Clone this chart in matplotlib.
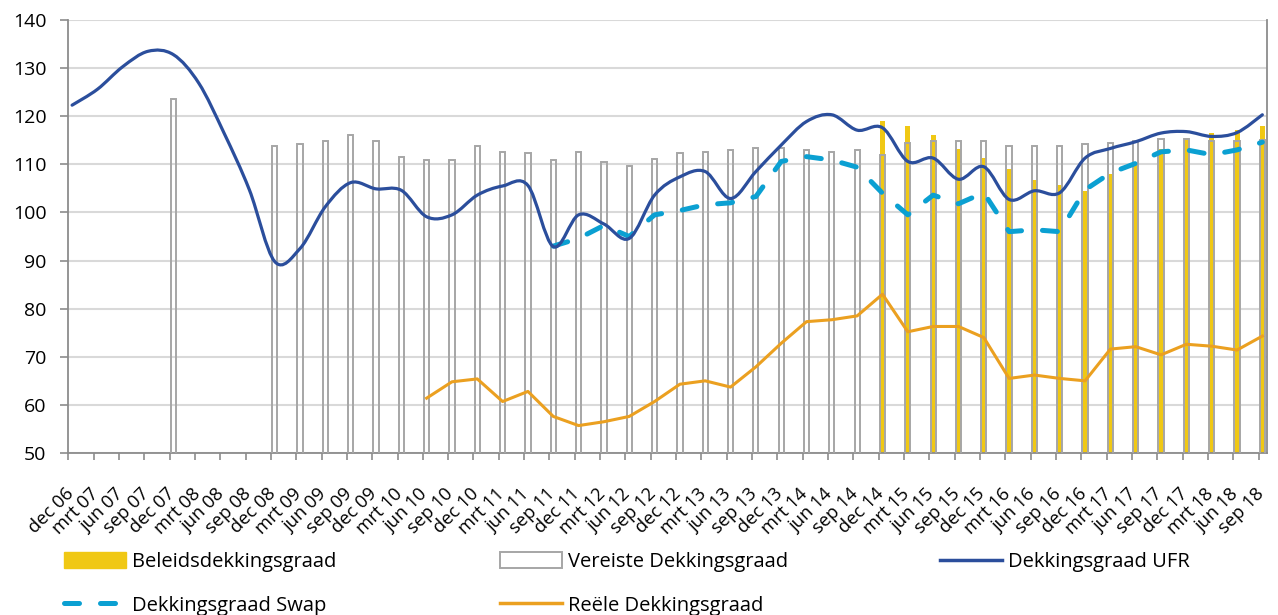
import numpy as np
import matplotlib.pyplot as plt
from matplotlib.path import Path
from matplotlib.patches import PathPatch, Patch
from matplotlib.lines import Line2D
from matplotlib.transforms import ScaledTranslation

plt.rcParams['font.family'] = ['Open Sans', 'DejaVu Sans']

# quarter labels, dec 06 .. sep 18
labels = ['dec 06', 'mrt 07', 'jun 07', 'sep 07', 'dec 07', 'mrt 08', 'jun 08', 'sep 08',
          'dec 08', 'mrt 09', 'jun 09', 'sep 09', 'dec 09', 'mrt 10', 'jun 10', 'sep 10',
          'dec 10', 'mrt 11', 'jun 11', 'sep 11', 'dec 11', 'mrt 12', 'jun 12', 'sep 12',
          'dec 12', 'mrt 13', 'jun 13', 'sep 13', 'dec 13', 'mrt 14', 'jun 14', 'sep 14',
          'dec 14', 'mrt 15', 'jun 15', 'sep 15', 'dec 15', 'mrt 16', 'jun 16', 'sep 16',
          'dec 16', 'mrt 17', 'jun 17', 'sep 17', 'dec 17', 'mrt 18', 'jun 18', 'sep 18']
nan = np.nan

# Vereiste dekkingsgraad (grey outlined bars)
vereiste = [nan, nan, nan, nan, 123.5, nan, nan, nan,
            113.8, 114.2, 114.9, 116.0, 114.9, 111.6, 110.8, 110.8,
            113.8, 112.6, 112.3, 110.8, 112.6, 110.4, 109.7, 111.2,
            112.3, 112.6, 113.0, 113.4, 113.4, 113.0, 112.6, 113.0,
            112.0, 114.5, 114.9, 114.9, 114.9, 113.8, 113.8, 113.8,
            114.2, 114.5, 114.9, 115.3, 115.3, 114.9, 114.9, 115.0]

# Beleidsdekkingsgraad (yellow bars, from dec 14)
beleids = [nan] * 32 + [119.1, 118.0, 116.1, 113.2, 111.3, 109.0, 106.8, 105.7,
                        104.5, 108.0, 110.2, 113.2, 115.4, 116.6, 117.2, 118.0]

# Dekkingsgraad UFR
ufr = [122.3, 125.6, 130.3, 133.5, 132.8, 126.9, 116.5, 104.7,
       89.8, 92.5, 101.2, 106.2, 104.9, 104.6, 99.1, 99.5,
       103.6, 105.5, 105.6, 92.9, 99.5, 97.6, 94.6, 103.6,
       107.4, 108.5, 102.9, 108.5, 114.0, 118.9, 120.3, 117.1,
       117.6, 110.6, 111.3, 106.9, 109.5, 102.7, 104.5, 104.1,
       111.3, 113.3, 114.7, 116.5, 116.8, 115.8, 116.6, 120.3]

# Dekkingsgraad Swap (from sep 11)
swap = [nan] * 19 + [93.0, 94.6, 97.3, 95.0, 99.5,
                     100.4, 101.6, 102.0, 103.3, 110.6, 111.6, 110.9, 109.4,
                     104.0, 99.5, 103.6, 101.8, 104.1, 96.0, 96.4, 96.0,
                     104.7, 108.2, 110.2, 112.6, 113.0, 112.0, 113.0, 114.6]

# Reele dekkingsgraad (from jun 10)
reeel = [nan] * 14 + [61.4, 64.8,
                      65.4, 60.7, 62.8, 57.6, 55.7, 56.5, 57.6, 60.7,
                      64.3, 65.0, 63.7, 67.9, 72.8, 77.3, 77.7, 78.5,
                      83.0, 75.2, 76.3, 76.3, 74.0, 65.5, 66.2, 65.5,
                      65.0, 71.6, 72.1, 70.4, 72.6, 72.2, 71.4, 74.3]

c_yellow = '#F0C814'
c_grey = '#A6A6A6'
c_ufr = '#2B4E9C'
c_swap = '#0BA0D2'
c_orange = '#EBA020'
swap_dash = (3.0, 4.2)

# months on a date axis, one label every quarter
ticks = np.arange(len(labels)) * 3
x = ticks + 0.45

fig = plt.figure(figsize=(12.78, 6.15), dpi=100)
ax = fig.add_axes([68.3 / 1278, 162 / 615, (1267 - 68.3) / 1278, 433 / 615])

ax.bar(x, beleids, width=0.6, color=c_yellow, zorder=2)
ax.bar(x, vereiste, width=0.62, facecolor='none', edgecolor=c_grey, linewidth=1.4, zorder=3)


def smooth_path(xs, ys):
    # bezier through the points (like excel's smoothed line)
    pts = np.column_stack([xs, ys])
    verts = [pts[0]]
    codes = [Path.MOVETO]
    n = len(pts)
    for i in range(n - 1):
        p0 = pts[i - 1] if i > 0 else pts[i]
        p1 = pts[i]
        p2 = pts[i + 1]
        p3 = pts[i + 2] if i + 2 < n else pts[i + 1]
        verts += [p1 + (p2 - p0) / 6, p2 - (p3 - p1) / 6, p2]
        codes += [Path.CURVE4] * 3
    return Path(verts, codes)


ax.add_patch(PathPatch(smooth_path(x, ufr), fill=False, edgecolor=c_ufr, linewidth=2.3,
                       capstyle='round', zorder=5))
ax.plot(x, swap, color=c_swap, linewidth=3.6, dashes=swap_dash, dash_capstyle='round', zorder=4)
ax.plot(x, reeel, color=c_orange, linewidth=2.2, zorder=4)

ax.set_xlim(0, 142)
ax.set_ylim(50, 140)
ax.set_yticks(range(50, 141, 10))
ax.set_xticks(ticks)
ax.set_xticklabels(labels, rotation=45, ha='right', rotation_mode='anchor', fontsize=13.2)
ax.tick_params(axis='x', length=5, color='#8C8C8C', width=1.2, pad=12)
ax.tick_params(axis='y', length=5.8, color='#8C8C8C', width=1.2, labelsize=14, pad=10)
shift = ScaledTranslation(-4 / 100, -8 / 100, fig.dpi_scale_trans)
for lab in ax.get_xticklabels():
    lab.set_transform(lab.get_transform() + shift)
ax.grid(axis='y', color='#D9D9D9', linewidth=1.5, zorder=0)
ax.set_axisbelow(True)
for s in ['left', 'bottom', 'right']:
    ax.spines[s].set_color('#8C8C8C')
    ax.spines[s].set_linewidth(1.3)
ax.spines['top'].set_visible(False)

leg_kw = dict(frameon=False, fontsize=14.5, handlelength=3.1, handleheight=0.78,
              handletextpad=0.3, labelspacing=1.17, loc='upper left', borderaxespad=0, borderpad=0)
h_bel = Patch(facecolor=c_yellow, edgecolor=c_yellow)
h_ver = Patch(facecolor='white', edgecolor=c_grey, linewidth=1.4)
h_ufr = Line2D([], [], color=c_ufr, linewidth=2.5)
h_swap = Line2D([], [], color=c_swap, linewidth=3.6, dashes=swap_dash, dash_capstyle='round')
h_re = Line2D([], [], color=c_orange, linewidth=2.5)
fig.legend([h_bel, h_swap], ['Beleidsdekkingsgraad', 'Dekkingsgraad Swap'],
           bbox_to_anchor=(64 / 1278, 1 - 552 / 615), **leg_kw)
fig.legend([h_ver, h_re], ['Vereiste Dekkingsgraad', 'Reële Dekkingsgraad'],
           bbox_to_anchor=(500 / 1278, 1 - 552 / 615), **leg_kw)
fig.legend([h_ufr], ['Dekkingsgraad UFR'],
           bbox_to_anchor=(940 / 1278, 1 - 552 / 615), **leg_kw)

fig.savefig('out.png', dpi=100)
